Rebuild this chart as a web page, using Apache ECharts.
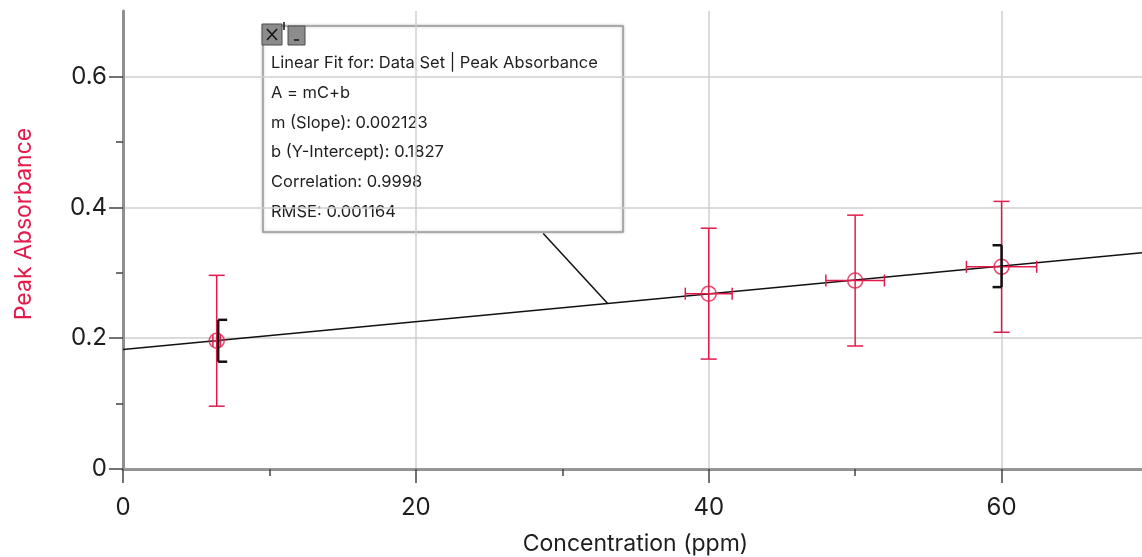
<!DOCTYPE html>
<html>
<head>
<meta charset="utf-8">
<script src="https://cdn.jsdelivr.net/npm/echarts@6/dist/echarts.min.js"></script>
<style>
  html, body { margin: 0; padding: 0; background: #fff; }
  #chart { width: 1142px; height: 557px; }
</style>
</head>
<body>
<div id="chart"></div>
<script>
// measured points: concentration (ppm) vs peak absorbance
const concentration = [6.4, 40, 50, 60];
const absorbance = [0.196, 0.268, 0.288, 0.309];
const xError = [0.26, 1.6, 2.0, 2.4];
const yError = [0.1, 0.1, 0.1, 0.1];

// linear fit, ends
const fitLine = [[0, 0.1827], [70, 0.3313]];
// leader from the fit box to the line
const leader = [[28.7, 0.360], [33.1, 0.253]];

// black brackets at both ends of the fit
const bracketX = [6.5, 60];
const bracketLow = [0.164, 0.278];
const bracketHigh = [0.228, 0.342];
const bracketSide = [1, -1];

// tick values
const xMajor = [0, 20, 40, 60];
const xMinor = [10, 30, 50];
const yMajor = [0, 0.2, 0.4, 0.6];
const yMinor = [0.1, 0.3, 0.5];

const fitText = [
  'Linear Fit for: Data Set | Peak Absorbance',
  'A = mC+b',
  'm (Slope): 0.002123',
  'b (Y-Intercept): 0.1827',
  'Correlation: 0.9998',
  'RMSE: 0.001164'
];

const red = '#e31b4b';
const font = 'Inter, "Liberation Sans", sans-serif';

const pointData = concentration.map((c, i) => [c, absorbance[i], xError[i], yError[i]]);
const bracketData = bracketX.map((x, i) => [x, bracketLow[i], bracketHigh[i], bracketSide[i]]);

function renderErrorBar(params, api) {
  const x = api.value(0), y = api.value(1), ex = api.value(2), ey = api.value(3);
  const top = api.coord([x, y + ey]);
  const bot = api.coord([x, y - ey]);
  const lft = api.coord([x - ex, y]);
  const rgt = api.coord([x + ex, y]);
  const style = { stroke: red, lineWidth: 1.5 };
  const ln = (x1, y1, x2, y2) => ({ type: 'line', shape: { x1, y1, x2, y2 }, style });
  return {
    type: 'group',
    children: [
      ln(top[0], top[1], bot[0], bot[1]),
      ln(top[0] - 8, top[1], top[0] + 8, top[1]),
      ln(bot[0] - 8, bot[1], bot[0] + 8, bot[1]),
      ln(lft[0], lft[1], rgt[0], rgt[1]),
      ln(lft[0], lft[1] - 6, lft[0], lft[1] + 6),
      ln(rgt[0], rgt[1] - 6, rgt[0], rgt[1] + 6)
    ]
  };
}

function renderBracket(params, api) {
  const lo = api.coord([api.value(0), api.value(1)]);
  const hi = api.coord([api.value(0), api.value(2)]);
  const d = api.value(3) * 9;
  const style = { stroke: '#111', lineWidth: 2.5 };
  return {
    type: 'group',
    children: [
      { type: 'line', shape: { x1: hi[0], y1: hi[1], x2: lo[0], y2: lo[1] }, style },
      { type: 'line', shape: { x1: hi[0], y1: hi[1], x2: hi[0] + d, y2: hi[1] }, style },
      { type: 'line', shape: { x1: lo[0], y1: lo[1], x2: lo[0] + d, y2: lo[1] }, style }
    ]
  };
}

const boxX = 263, boxY = 26;
const boxChildren = [
  { type: 'rect', shape: { x: boxX, y: boxY, width: 360, height: 206 },
    style: { fill: '#fff', stroke: '#9a9a9a', lineWidth: 1.5, shadowBlur: 3, shadowColor: 'rgba(0,0,0,0.25)' } },
  { type: 'rect', shape: { x: 262, y: 24, width: 20, height: 21 },
    style: { fill: '#8c8c8c', stroke: '#4a4a4a', lineWidth: 1 } },
  { type: 'line', shape: { x1: 267, y1: 29, x2: 277, y2: 40 }, style: { stroke: '#111', lineWidth: 1.5 } },
  { type: 'line', shape: { x1: 277, y1: 29, x2: 267, y2: 40 }, style: { stroke: '#111', lineWidth: 1.5 } },
  { type: 'line', shape: { x1: 284, y1: 22, x2: 284, y2: 30 }, style: { stroke: '#111', lineWidth: 1.5 } },
  { type: 'rect', shape: { x: 288, y: 26, width: 17, height: 19 },
    style: { fill: '#8c8c8c', stroke: '#4a4a4a', lineWidth: 1 } },
  { type: 'line', shape: { x1: 294, y1: 40, x2: 299, y2: 40 }, style: { stroke: '#111', lineWidth: 1.5 } }
];
fitText.forEach((t, i) => {
  boxChildren.push({
    type: 'text', x: 271, y: 63 + i * 29.8,
    style: { text: t, fill: '#1e1e1e', fontSize: 16.5, fontFamily: font, align: 'left', verticalAlign: 'middle' }
  });
});

const chart = echarts.init(document.getElementById('chart'));
chart.setOption({
  animation: false,
  grid: { left: 123, top: 11, width: 1025, height: 458, outerBoundsMode: 'none' },
  xAxis: [
    {
      type: 'value', min: 0, max: 70, interval: 20, position: 'bottom',
      name: 'Concentration (ppm)', nameLocation: 'middle', nameGap: 64,
      nameTextStyle: { fontSize: 23, color: '#1e1e1e', fontFamily: font },
      axisLine: { show: true, onZero: false, lineStyle: { color: '#8f8f8f', width: 3 } },
      axisTick: { show: true, length: 14, customValues: xMajor, lineStyle: { color: '#444', width: 1.5 } },
      axisLabel: { fontSize: 24, color: '#1e1e1e', fontFamily: font, margin: 27, customValues: xMajor },
      splitLine: { show: true, lineStyle: { color: '#cfcfcf', width: 1.5 } }
    },
    {
      type: 'value', min: 0, max: 70, position: 'bottom',
      axisLine: { show: false },
      axisTick: { show: true, length: 7, customValues: xMinor, lineStyle: { color: '#444', width: 1.5 } },
      axisLabel: { show: false },
      splitLine: { show: false }
    },
    {
      type: 'value', min: 0, max: 70, position: 'top',
      axisLine: { show: true, lineStyle: { color: '#9a9a9a', width: 1.5 } },
      axisTick: { show: false }, axisLabel: { show: false }, splitLine: { show: false }
    }
  ],
  yAxis: [
    {
      type: 'value', min: 0, max: 0.7, interval: 0.2, position: 'left',
      axisLine: { show: true, onZero: false, lineStyle: { color: '#8f8f8f', width: 3 } },
      axisTick: { show: true, length: 14, customValues: yMajor, lineStyle: { color: '#444', width: 1.5 } },
      axisLabel: { fontSize: 24, color: '#1e1e1e', fontFamily: font, margin: 16, customValues: yMajor },
      splitLine: { show: true, lineStyle: { color: '#cfcfcf', width: 1.5 } }
    },
    {
      type: 'value', min: 0, max: 0.7, position: 'left',
      axisLine: { show: false },
      axisTick: { show: true, length: 7, customValues: yMinor, lineStyle: { color: '#444', width: 1.5 } },
      axisLabel: { show: false },
      splitLine: { show: false }
    }
  ],
  series: [
    {
      type: 'line', data: fitLine, symbol: 'none', z: 3,
      lineStyle: { color: '#111', width: 1.5 }
    },
    {
      type: 'line', data: leader, symbol: 'none', z: 3,
      lineStyle: { color: '#111', width: 1.5 }
    },
    {
      type: 'custom', data: pointData, renderItem: renderErrorBar, z: 4
    },
    {
      type: 'scatter', data: pointData, symbol: 'circle', symbolSize: 15, z: 5,
      itemStyle: { color: 'rgba(0,0,0,0)', borderColor: red, borderWidth: 1.5 }
    },
    {
      type: 'custom', data: bracketData, renderItem: renderBracket, z: 6
    }
  ],
  graphic: [
    {
      type: 'text', x: 24, y: 224, rotation: Math.PI / 2,
      style: { text: 'Peak Absorbance', fill: red, fontSize: 23, fontFamily: font, align: 'center', verticalAlign: 'middle' }
    },
    { type: 'group', z: 100, children: boxChildren }
  ]
});
</script>
</body>
</html>
